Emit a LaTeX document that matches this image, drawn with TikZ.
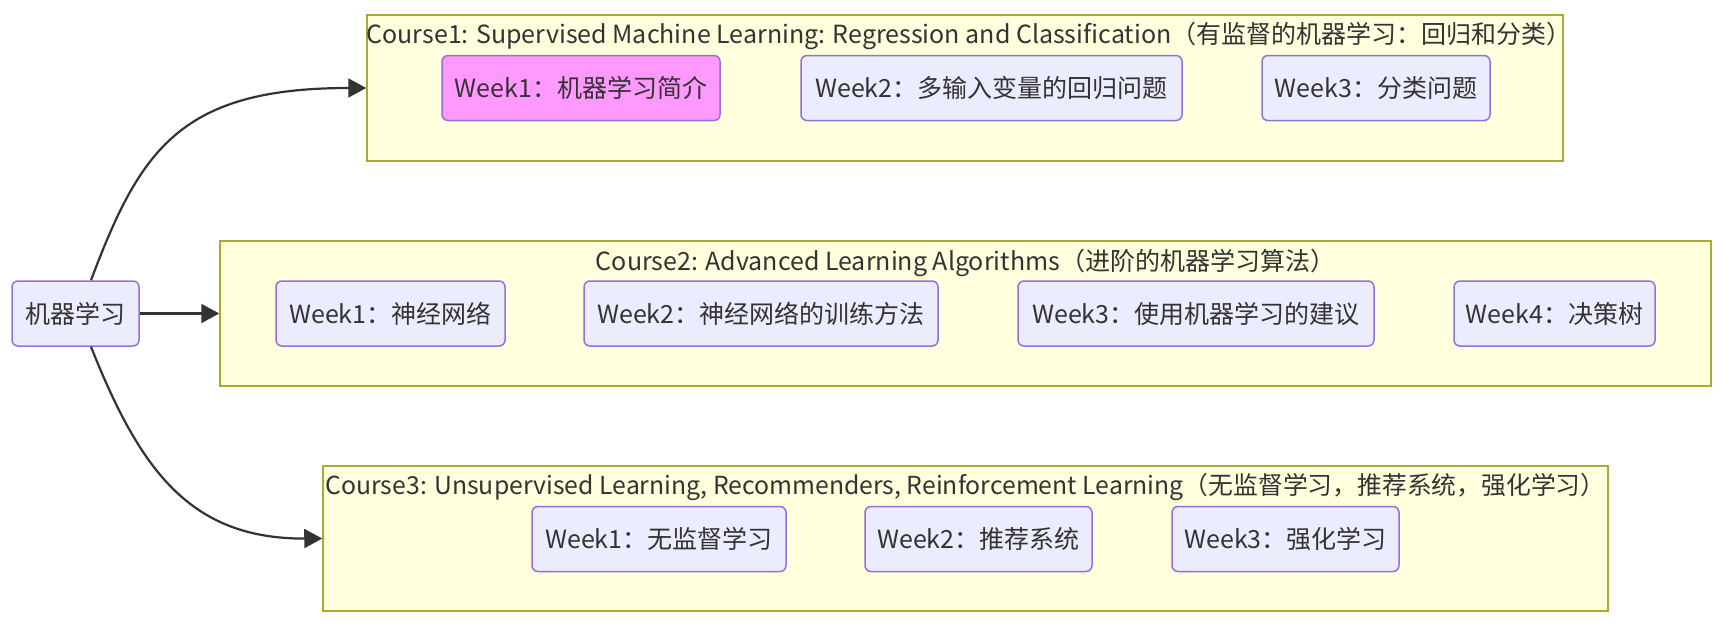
\documentclass[tikz,border=0pt]{standalone}
\usepackage{fontspec}
\setmainfont{Noto Sans CJK SC}
\usetikzlibrary{arrows.meta}
\definecolor{weekfill}{HTML}{ECECFF}
\definecolor{weekdraw}{HTML}{9370DB}
\definecolor{coursefill}{HTML}{FFFFDE}
\definecolor{coursedraw}{HTML}{AAAA33}
\definecolor{hotfill}{HTML}{FF99FF}
\definecolor{ink}{HTML}{333333}
\begin{document}
\begin{tikzpicture}[x=1pt, y=-1pt,
		week/.style={shape=rectangle, draw=weekdraw, fill=weekfill,
			line width=1.5pt, rounded corners=6pt,
			minimum height=65pt, inner xsep=0pt, text=ink},
		course/.style={shape=rectangle, draw=coursedraw, fill=coursefill,
			line width=1.5pt, minimum height=145pt},
		title/.style={text=ink, inner sep=0pt},
		link/.style={draw=ink, line width=2.2pt,
			-{Triangle[length=18pt,width=19pt]}}]
		\fontsize{25}{30}\selectfont
		\useasboundingbox (0,0) rectangle (1730,624);
		\node[week, minimum width=127pt] (ml) at (75.5,313.5) {机器学习};
		\node[course, minimum width=1196pt, minimum height=146pt] (c1) at (965,88) {};
		\node[course, minimum width=1491pt] (c2) at (965.5,313.5) {};
		\node[course, minimum width=1285pt] (c3) at (965.5,538.5) {};
		\node[title] (c1t) at (969,36) {Course1: Supervised Machine Learning: Regression and Classification（有监督的机器学习：回归和分类）};
		\node[week, fill=hotfill, minimum width=278pt] (c1w1) at (581,88) {Week1：机器学习简介};
		\node[week, minimum width=381pt] (c1w2) at (991.5,88) {Week2：多输入变量的回归问题};
		\node[week, minimum width=228pt] (c1w3) at (1376,88) {Week3：分类问题};
		\node[title] (c2t) at (965.5,263) {Course2: Advanced Learning Algorithms（进阶的机器学习算法）};
		\node[week, minimum width=229pt] (c2w1) at (390.5,313.5) {Week1：神经网络};
		\node[week, minimum width=354pt] (c2w2) at (761,313.5) {Week2：神经网络的训练方法};
		\node[week, minimum width=356pt] (c2w3) at (1196,313.5) {Week3：使用机器学习的建议};
		\node[week, minimum width=201pt] (c2w4) at (1554.5,313.5) {Week4：决策树};
		\node[title, font=\fontsize{24.8}{30}\selectfont] (c3t) at (965.5,487) {Course3: Unsupervised Learning, Recommenders, Reinforcement Learning（无监督学习，推荐系统，强化学习）};
		\node[week, minimum width=254pt] (c3w1) at (659,539) {Week1：无监督学习};
		\node[week, minimum width=227pt] (c3w2) at (978.5,539) {Week2：推荐系统};
		\node[week, minimum width=227pt] (c3w3) at (1285.5,539) {Week3：强化学习};
		\draw[link] (ml.65) .. controls (140,150) and (180,88) .. (c1.west);
		\draw[link] (ml.east) -- (c2.west);
		\draw[link] (ml.-65) .. controls (140,470) and (190,539) .. (c3.west);
\end{tikzpicture}
\end{document}
